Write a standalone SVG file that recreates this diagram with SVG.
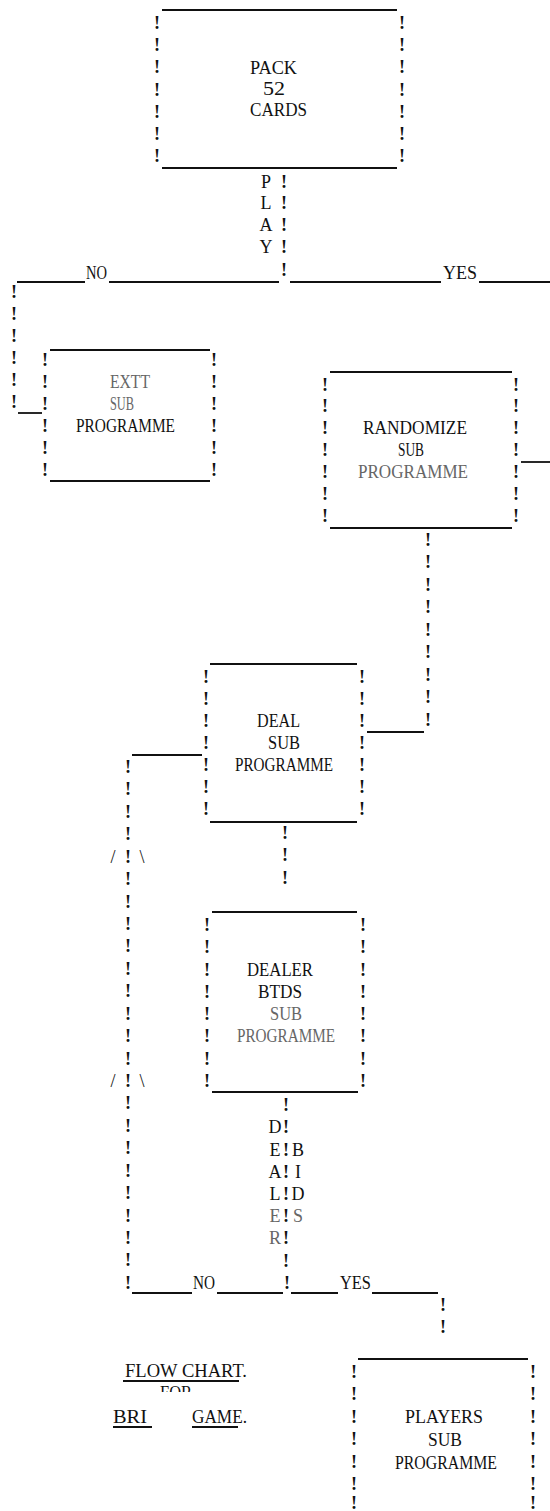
<svg xmlns="http://www.w3.org/2000/svg" width="550" height="1511" viewBox="0 0 550 1511">
<style>
.t{font-family:"Liberation Serif","Times New Roman",serif;font-size:18px;fill:#111}
.m{text-anchor:middle}
.b{font-weight:bold}
.g{fill:#666}
.ln{stroke:#111;stroke-width:1.8;fill:none}
</style>
<defs>
<clipPath id="forclip"><rect x="150" y="1380" width="60" height="12"/></clipPath>
</defs>
<rect width="550" height="1511" fill="#fff"/>

<g id="connectors">
  <path class="ln" d="M17 282H85M109 282H279M290 282H441M479 282H550"/>
  <path class="ln" d="M18 413H42"/>
  <path class="ln" d="M521 462H550"/>
  <path class="ln" d="M367 732H424"/>
  <path class="ln" d="M132 755H202"/>
  <path class="ln" d="M132 1293H192M217 1293H283M291 1293H338M372 1293H438"/>
  <text class="t m"><tspan x="266" y="188">P</tspan><tspan x="266" y="209">L</tspan><tspan x="266" y="231">A</tspan><tspan x="266" y="253">Y</tspan></text>
  <text class="t m b"><tspan x="284" y="188">!</tspan><tspan x="284" y="209">!</tspan><tspan x="284" y="231">!</tspan><tspan x="284" y="253">!</tspan><tspan x="284" y="276">!</tspan></text>
  <text class="t" x="86" y="279" textLength="21" lengthAdjust="spacingAndGlyphs">NO</text>
  <text class="t" x="443" y="279" textLength="34" lengthAdjust="spacingAndGlyphs">YES</text>
  <text class="t m b"><tspan x="14" y="298">!</tspan><tspan x="14" y="320">!</tspan><tspan x="14" y="342">!</tspan><tspan x="14" y="364">!</tspan><tspan x="14" y="386">!</tspan><tspan x="14" y="408">!</tspan></text>
  <text class="t m b"><tspan x="428" y="546">!</tspan><tspan x="428" y="568">!</tspan><tspan x="428" y="591">!</tspan><tspan x="428" y="613">!</tspan><tspan x="428" y="636">!</tspan><tspan x="428" y="658">!</tspan><tspan x="428" y="681">!</tspan><tspan x="428" y="703">!</tspan><tspan x="428" y="726">!</tspan></text>
  <text class="t m b"><tspan x="128" y="773">!</tspan><tspan x="128" y="795">!</tspan><tspan x="128" y="818">!</tspan><tspan x="128" y="840">!</tspan><tspan x="128" y="863">!</tspan><tspan x="128" y="885">!</tspan><tspan x="128" y="908">!</tspan><tspan x="128" y="930">!</tspan><tspan x="128" y="952">!</tspan><tspan x="128" y="975">!</tspan><tspan x="128" y="997">!</tspan><tspan x="128" y="1020">!</tspan><tspan x="128" y="1042">!</tspan><tspan x="128" y="1065">!</tspan><tspan x="128" y="1087">!</tspan><tspan x="128" y="1109">!</tspan><tspan x="128" y="1132">!</tspan><tspan x="128" y="1154">!</tspan><tspan x="128" y="1177">!</tspan><tspan x="128" y="1199">!</tspan><tspan x="128" y="1222">!</tspan><tspan x="128" y="1244">!</tspan><tspan x="128" y="1266">!</tspan><tspan x="128" y="1289">!</tspan></text>
  <text class="t m"><tspan x="113" y="863">/</tspan><tspan x="142" y="863">\</tspan><tspan x="113" y="1087">/</tspan><tspan x="142" y="1087">\</tspan></text>
  <text class="t m b"><tspan x="285" y="839">!</tspan><tspan x="285" y="861">!</tspan><tspan x="285" y="884">!</tspan></text>
  <text class="t m b"><tspan x="286" y="1111">!</tspan><tspan x="286" y="1133">!</tspan><tspan x="286" y="1156">!</tspan><tspan x="286" y="1178">!</tspan><tspan x="286" y="1200">!</tspan><tspan x="286" y="1222">!</tspan><tspan x="286" y="1244">!</tspan><tspan x="286" y="1267">!</tspan><tspan x="287" y="1289">!</tspan></text>
  <text class="t m"><tspan x="275" y="1133">D</tspan><tspan x="275" y="1156">E</tspan><tspan x="275" y="1178">A</tspan><tspan x="275" y="1200">L</tspan></text>
  <text class="t m g"><tspan x="275" y="1222">E</tspan><tspan x="275" y="1244">R</tspan></text>
  <text class="t m"><tspan x="298" y="1156">B</tspan><tspan x="298" y="1178">I</tspan><tspan x="298" y="1200">D</tspan></text>
  <text class="t m g"><tspan x="298" y="1222">S</tspan></text>
  <text class="t" x="193" y="1289" textLength="22" lengthAdjust="spacingAndGlyphs">NO</text>
  <text class="t" x="340" y="1289" textLength="31" lengthAdjust="spacingAndGlyphs">YES</text>
  <text class="t m b"><tspan x="443" y="1311">!</tspan><tspan x="443" y="1333">!</tspan></text>
</g>

<g id="pack">
  <path class="ln" d="M162 10H397M162 168H397"/>
  <text class="t m b"><tspan x="157" y="29">!</tspan><tspan x="157" y="51">!</tspan><tspan x="157" y="73">!</tspan><tspan x="157" y="96">!</tspan><tspan x="157" y="118">!</tspan><tspan x="157" y="140">!</tspan><tspan x="157" y="162">!</tspan></text>
  <text class="t m b"><tspan x="402" y="29">!</tspan><tspan x="402" y="51">!</tspan><tspan x="402" y="73">!</tspan><tspan x="402" y="96">!</tspan><tspan x="402" y="118">!</tspan><tspan x="402" y="140">!</tspan><tspan x="402" y="162">!</tspan></text>
  <text class="t" x="250" y="74" textLength="47" lengthAdjust="spacingAndGlyphs">PACK</text>
  <text class="t" x="263" y="95" textLength="22" lengthAdjust="spacingAndGlyphs">52</text>
  <text class="t" x="250" y="116" textLength="57" lengthAdjust="spacingAndGlyphs">CARDS</text>
</g>

<g id="exit">
  <path class="ln" d="M50 350H210M50 481H210"/>
  <text class="t m b"><tspan x="45" y="366">!</tspan><tspan x="45" y="388">!</tspan><tspan x="45" y="410">!</tspan><tspan x="45" y="432">!</tspan><tspan x="45" y="454">!</tspan><tspan x="45" y="476">!</tspan></text>
  <text class="t m b"><tspan x="214" y="366">!</tspan><tspan x="214" y="388">!</tspan><tspan x="214" y="410">!</tspan><tspan x="214" y="432">!</tspan><tspan x="214" y="454">!</tspan><tspan x="214" y="476">!</tspan></text>
  <text class="t g" x="110" y="388" textLength="40" lengthAdjust="spacingAndGlyphs">EXTT</text>
  <text class="t g" x="110" y="410" textLength="24" lengthAdjust="spacingAndGlyphs">SUB</text>
  <text class="t" x="76" y="432" textLength="99" lengthAdjust="spacingAndGlyphs">PROGRAMME</text>
</g>

<g id="randomize">
  <path class="ln" d="M330 372H512M330 528H512"/>
  <text class="t m b"><tspan x="325" y="391">!</tspan><tspan x="325" y="412">!</tspan><tspan x="325" y="434">!</tspan><tspan x="325" y="456">!</tspan><tspan x="325" y="478">!</tspan><tspan x="325" y="500">!</tspan><tspan x="325" y="522">!</tspan></text>
  <text class="t m b"><tspan x="516" y="391">!</tspan><tspan x="516" y="412">!</tspan><tspan x="516" y="434">!</tspan><tspan x="516" y="456">!</tspan><tspan x="516" y="478">!</tspan><tspan x="516" y="500">!</tspan><tspan x="516" y="522">!</tspan></text>
  <text class="t" x="363" y="434" textLength="104" lengthAdjust="spacingAndGlyphs">RANDOMIZE</text>
  <text class="t" x="398" y="456" textLength="26" lengthAdjust="spacingAndGlyphs">SUB</text>
  <text class="t g" x="358" y="478" textLength="110" lengthAdjust="spacingAndGlyphs">PROGRAMME</text>
</g>

<g id="deal">
  <path class="ln" d="M210 664H357M210 822H357"/>
  <text class="t m b"><tspan x="206" y="683">!</tspan><tspan x="206" y="705">!</tspan><tspan x="206" y="727">!</tspan><tspan x="206" y="749">!</tspan><tspan x="206" y="771">!</tspan><tspan x="206" y="793">!</tspan><tspan x="206" y="815">!</tspan></text>
  <text class="t m b"><tspan x="362" y="683">!</tspan><tspan x="362" y="705">!</tspan><tspan x="362" y="727">!</tspan><tspan x="362" y="749">!</tspan><tspan x="362" y="771">!</tspan><tspan x="362" y="793">!</tspan><tspan x="362" y="815">!</tspan></text>
  <text class="t" x="257" y="727" textLength="43" lengthAdjust="spacingAndGlyphs">DEAL</text>
  <text class="t" x="268" y="749" textLength="32" lengthAdjust="spacingAndGlyphs">SUB</text>
  <text class="t" x="235" y="771" textLength="98" lengthAdjust="spacingAndGlyphs">PROGRAMME</text>
</g>

<g id="dealer-bids">
  <path class="ln" d="M212 912H357M212 1092H358"/>
  <text class="t m b"><tspan x="207" y="931">!</tspan><tspan x="207" y="953">!</tspan><tspan x="207" y="976">!</tspan><tspan x="207" y="998">!</tspan><tspan x="207" y="1020">!</tspan><tspan x="207" y="1042">!</tspan><tspan x="207" y="1065">!</tspan><tspan x="207" y="1087">!</tspan></text>
  <text class="t m b"><tspan x="363" y="931">!</tspan><tspan x="363" y="953">!</tspan><tspan x="363" y="976">!</tspan><tspan x="363" y="998">!</tspan><tspan x="363" y="1020">!</tspan><tspan x="363" y="1042">!</tspan><tspan x="363" y="1065">!</tspan><tspan x="363" y="1087">!</tspan></text>
  <text class="t" x="247" y="976" textLength="66" lengthAdjust="spacingAndGlyphs">DEALER</text>
  <text class="t" x="258" y="998" textLength="44" lengthAdjust="spacingAndGlyphs">BTDS</text>
  <text class="t g" x="270" y="1020" textLength="32" lengthAdjust="spacingAndGlyphs">SUB</text>
  <text class="t g" x="237" y="1042" textLength="98" lengthAdjust="spacingAndGlyphs">PROGRAMME</text>
</g>

<g id="players">
  <path class="ln" d="M358 1359H528"/>
  <text class="t m b"><tspan x="354" y="1378">!</tspan><tspan x="354" y="1400">!</tspan><tspan x="354" y="1423">!</tspan><tspan x="354" y="1445">!</tspan><tspan x="354" y="1468">!</tspan><tspan x="354" y="1490">!</tspan><tspan x="354" y="1509">!</tspan></text>
  <text class="t m b"><tspan x="533" y="1378">!</tspan><tspan x="533" y="1400">!</tspan><tspan x="533" y="1423">!</tspan><tspan x="533" y="1445">!</tspan><tspan x="533" y="1468">!</tspan><tspan x="533" y="1490">!</tspan><tspan x="533" y="1509">!</tspan></text>
  <text class="t" x="405" y="1423" textLength="78" lengthAdjust="spacingAndGlyphs">PLAYERS</text>
  <text class="t" x="428" y="1446" textLength="34" lengthAdjust="spacingAndGlyphs">SUB</text>
  <text class="t" x="395" y="1469" textLength="102" lengthAdjust="spacingAndGlyphs">PROGRAMME</text>
</g>

<g id="title">
  <text class="t" x="125" y="1377" textLength="122" lengthAdjust="spacingAndGlyphs">FLOW CHART.</text>
  <path class="ln" d="M123 1381H239"/>
  <text class="t" x="160" y="1399" textLength="32" lengthAdjust="spacingAndGlyphs" clip-path="url(#forclip)">FOR</text>
  <text class="t" x="113" y="1423" textLength="34" lengthAdjust="spacingAndGlyphs">BRI</text>
  <path class="ln" d="M113 1427H152"/>
  <text class="t" x="192" y="1423" textLength="55" lengthAdjust="spacingAndGlyphs">GAME.</text>
  <path class="ln" d="M192 1427H238"/>
</g>
</svg>
